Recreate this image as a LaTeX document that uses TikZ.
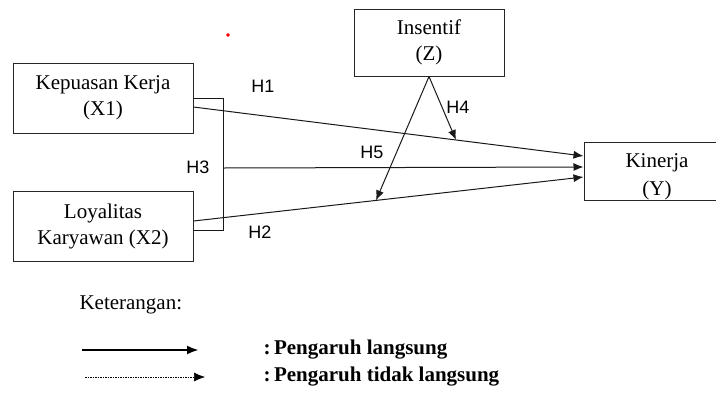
\documentclass[tikz,border=0pt]{standalone}
\usepackage{fontspec}
\setmainfont{Liberation Serif}
\newfontfamily\hfont{Liberation Sans}
\usetikzlibrary{arrows.meta,calc}

\begin{document}
\begin{tikzpicture}[x=1pt,y=-1pt,
		box/.style={draw=black!85, line width=1pt, align=center, inner sep=0pt, font=\fontsize{21}{26}\selectfont},
		hyp/.style={font=\hfont\fontsize{18}{20}\selectfont},
		line/.style={line width=1pt, black!90},
		arr/.style={line, -{Latex[length=10pt,width=8pt]}}]
	\useasboundingbox (0,0) rectangle (716,392);

	% variabel
	\node[box, minimum width=180, minimum height=70] (x1) at (103,98) {Kepuasan Kerja\\(X1)};
	\node[box, minimum width=180, minimum height=70] (x2) at (103,226) {Loyalitas\\Karyawan (X2)};
	\node[box, minimum width=150, minimum height=67] (z) at (429,42.5) {Insentif\\(Z)};
	\node[box, minimum width=146, minimum height=58] (y) at (657,171) {};
	\node[align=center, font=\fontsize{21}{28}\selectfont] (ytext) at (657,177) {Kinerja\\(Y)};

	\filldraw[red] (228,35) circle (1.6pt);

	% jalur langsung
	\coordinate (a1) at ($(x1.east)+(0,9)$);
	\coordinate (b1) at ($(y.west)+(0,-15)$);
	\coordinate (a2) at ($(x2.east)+(0,-5)$);
	\coordinate (b2) at ($(y.west)+(0,6)$);
	\coordinate (h3) at (223,168);
	\draw[line] (x1.east) -| ($(x2.east)+(30,4)$) -- ($(x2.east)+(0,4)$);
	\draw[arr] (a1) -- (b1);
	\draw[arr] (a2) -- (b2);
	\draw[arr] (h3) -- ($(y.west)+(0,-4)$);

	% jalur moderasi
	\coordinate (m1) at ($(a1)!0.673!(b1)$);
	\coordinate (m2) at ($(a2)!0.468!(b2)$);
	\draw[arr] (z.south) -- (m1);
	\draw[arr] (z.south) -- (m2);

	\node[hyp] (h1) at (263,86) {H1};
	\node[hyp] (h2) at (260,232) {H2};
	\node[hyp] (h3t) at (198,167) {H3};
	\node[hyp] (h4) at (458,107) {H4};
	\node[hyp] (h5) at (372,152) {H5};

	% keterangan
	\node[anchor=west, font=\fontsize{21}{26}\selectfont] (ket) at (76,305) {Keterangan:};
	\coordinate (s1) at (82,350);
	\coordinate (e1) at (199,350);
	\coordinate (s2) at (85,377);
	\coordinate (e2) at (205,377);
	\draw[line width=2.3pt, -{Latex[length=12pt,width=9pt]}] (s1) -- (e1);
	\draw[line width=0.6pt, dash pattern=on 1.5pt off 1pt, -{Latex[length=11pt,width=9pt]}] (s2) -- (e2);
	\node[anchor=west, font=\bfseries\fontsize{21}{26}\selectfont] (l1) at (260,350) {:\,Pengaruh langsung};
	\node[anchor=west, font=\bfseries\fontsize{21}{26}\selectfont] (l2) at (260,377) {:\,Pengaruh tidak langsung};
\end{tikzpicture}
\end{document}
